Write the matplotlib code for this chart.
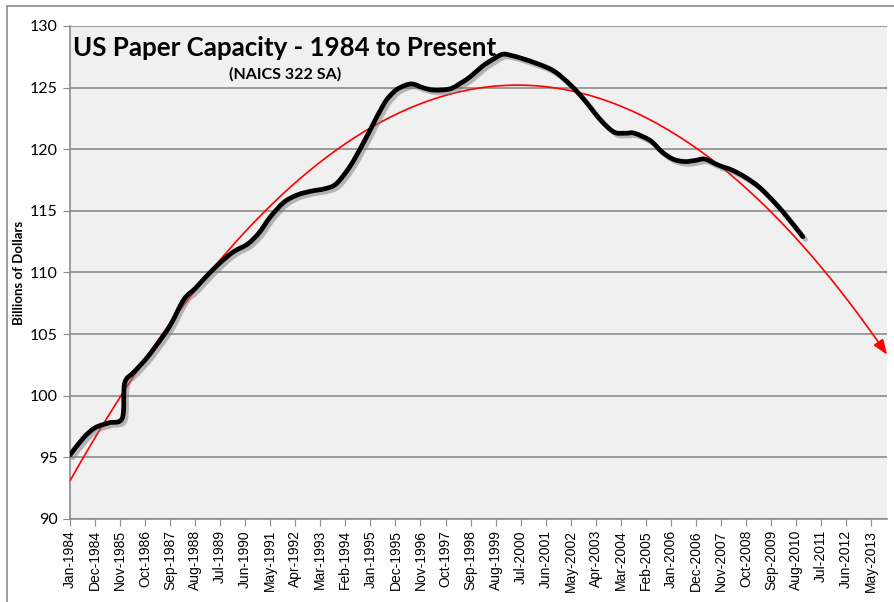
import numpy as np
import matplotlib
matplotlib.use('Agg')
import matplotlib.pyplot as plt
import matplotlib.patheffects as pe
from matplotlib.patches import Rectangle, PathPatch
from matplotlib.path import Path

# month index counted from Jan-1984 (0) ; category axis runs to Dec-2013 (359)
months = [0, 6, 11, 17, 23, 24, 28, 33, 38, 44, 50, 55, 60, 66, 72, 78, 83, 88,
          94, 100, 106, 112, 117, 123, 128, 132, 138, 142, 145, 150, 155, 160,
          167, 172, 176, 181, 185, 190, 194, 198, 206, 213, 220, 226, 233, 239,
          244, 248, 255, 260, 265, 270, 275, 279, 285, 291, 297, 303, 310, 316, 322]
capacity = [95.2, 96.6, 97.4, 97.8, 98.2, 101.0, 101.9, 102.9, 104.1, 105.7, 107.8,
            108.7, 109.7, 110.8, 111.7, 112.3, 113.2, 114.5, 115.7, 116.3, 116.6,
            116.8, 117.2, 118.6, 120.2, 121.6, 123.7, 124.6, 125.0, 125.3, 125.0,
            124.8, 124.9, 125.4, 125.9, 126.7, 127.2, 127.7, 127.6, 127.4, 126.9,
            126.3, 125.2, 124.0, 122.4, 121.4, 121.3, 121.3, 120.7, 119.8, 119.2,
            119.0, 119.1, 119.2, 118.7, 118.3, 117.7, 116.9, 115.6, 114.3, 112.9]

tick_labels = ['Jan-1984', 'Dec-1984', 'Nov-1985', 'Oct-1986', 'Sep-1987', 'Aug-1988',
               'Jul-1989', 'Jun-1990', 'May-1991', 'Apr-1992', 'Mar-1993', 'Feb-1994',
               'Jan-1995', 'Dec-1995', 'Nov-1996', 'Oct-1997', 'Sep-1998', 'Aug-1999',
               'Jul-2000', 'Jun-2001', 'May-2002', 'Apr-2003', 'Mar-2004', 'Feb-2005',
               'Jan-2006', 'Dec-2006', 'Nov-2007', 'Oct-2008', 'Sep-2009', 'Aug-2010',
               'Jul-2011', 'Jun-2012', 'May-2013']
n_months = 360


def smooth_path(x, y):
    """excel style smoothed line: bezier segments through every point"""
    pts = np.column_stack([x, y]).astype(float)
    verts = [pts[0]]
    codes = [Path.MOVETO]
    for i in range(len(pts) - 1):
        p0 = pts[max(i - 1, 0)]
        p1, p2 = pts[i], pts[i + 1]
        p3 = pts[min(i + 2, len(pts) - 1)]
        verts += [p1 + (p2 - p0) / 6, p2 - (p3 - p1) / 6, p2]
        codes += [Path.CURVE4] * 3
    return Path(verts, codes)


fig = plt.figure(figsize=(8.94, 6.02), dpi=100)
fig.patches.append(Rectangle((7 / 894, -0.1), 2, 1.1 - 6 / 602, transform=fig.transFigure,
                             fill=False, edgecolor='#8c8c8c', lw=1.2))
ax = fig.add_axes([70 / 894, 1 - 519 / 602, 817 / 894, 493 / 602])
ax.set_facecolor('#f0f0f0')

# polynomial (order 2) trendline like excel, extended to the end of the axis
coef = np.polyfit(months, capacity, 2)
tx = np.arange(0, n_months)
ty = np.polyval(coef, tx)
ax.plot(tx[:-3], ty[:-3], color='red', lw=1.2, zorder=3)
ax.annotate('', xy=(tx[-1], ty[-1]), xytext=(tx[-4], ty[-4]),
            arrowprops=dict(arrowstyle='-|>,head_length=0.9,head_width=0.35',
                            color='red', lw=1.2, shrinkA=0, shrinkB=0), zorder=3)

line = PathPatch(smooth_path(months, capacity), fill=False, edgecolor='black', lw=3.4,
                 capstyle='round', joinstyle='round', zorder=4)
line.set_path_effects([pe.SimpleLineShadow(offset=(2, -2), shadow_color='#7a7a7a', alpha=0.5),
                       pe.Normal()])
ax.add_patch(line)

ax.set_xlim(0, n_months - 1)
ax.set_ylim(90, 130)
ax.set_yticks(range(90, 131, 5))
ax.set_xticks(range(0, 11 * len(tick_labels), 11))
ax.set_xticklabels(tick_labels, rotation=90, fontsize=10, family='Liberation Sans')
ax.tick_params(axis='x', length=5, color='#8c8c8c', pad=3)
ax.tick_params(axis='y', length=5, color='#8c8c8c', labelsize=11.5, pad=4)
for lab in ax.get_yticklabels():
    lab.set_family('Lato')
ax.yaxis.grid(True, color='#8c8c8c', lw=1.2)
ax.set_axisbelow(True)
for s in ['top', 'right']:
    ax.spines[s].set_visible(False)
for s in ['left', 'bottom']:
    ax.spines[s].set_color('#8c8c8c')
    ax.spines[s].set_linewidth(1.2)

ax.set_ylabel('Billions of Dollars', fontsize=9.5, fontweight='bold', family='Lato')
ax.yaxis.set_label_coords(-45 / 817, 0.5)

fig.text(73 / 894, 1 - 56 / 602, 'US Paper Capacity - 1984 to Present', fontsize=18.6,
         fontweight='bold', family='Lato')
fig.text(285 / 894, 1 - 79 / 602, '(NAICS 322 SA)', fontsize=11.5, fontweight='bold',
         family='Lato', ha='center')

fig.savefig('out.png', dpi=100)
